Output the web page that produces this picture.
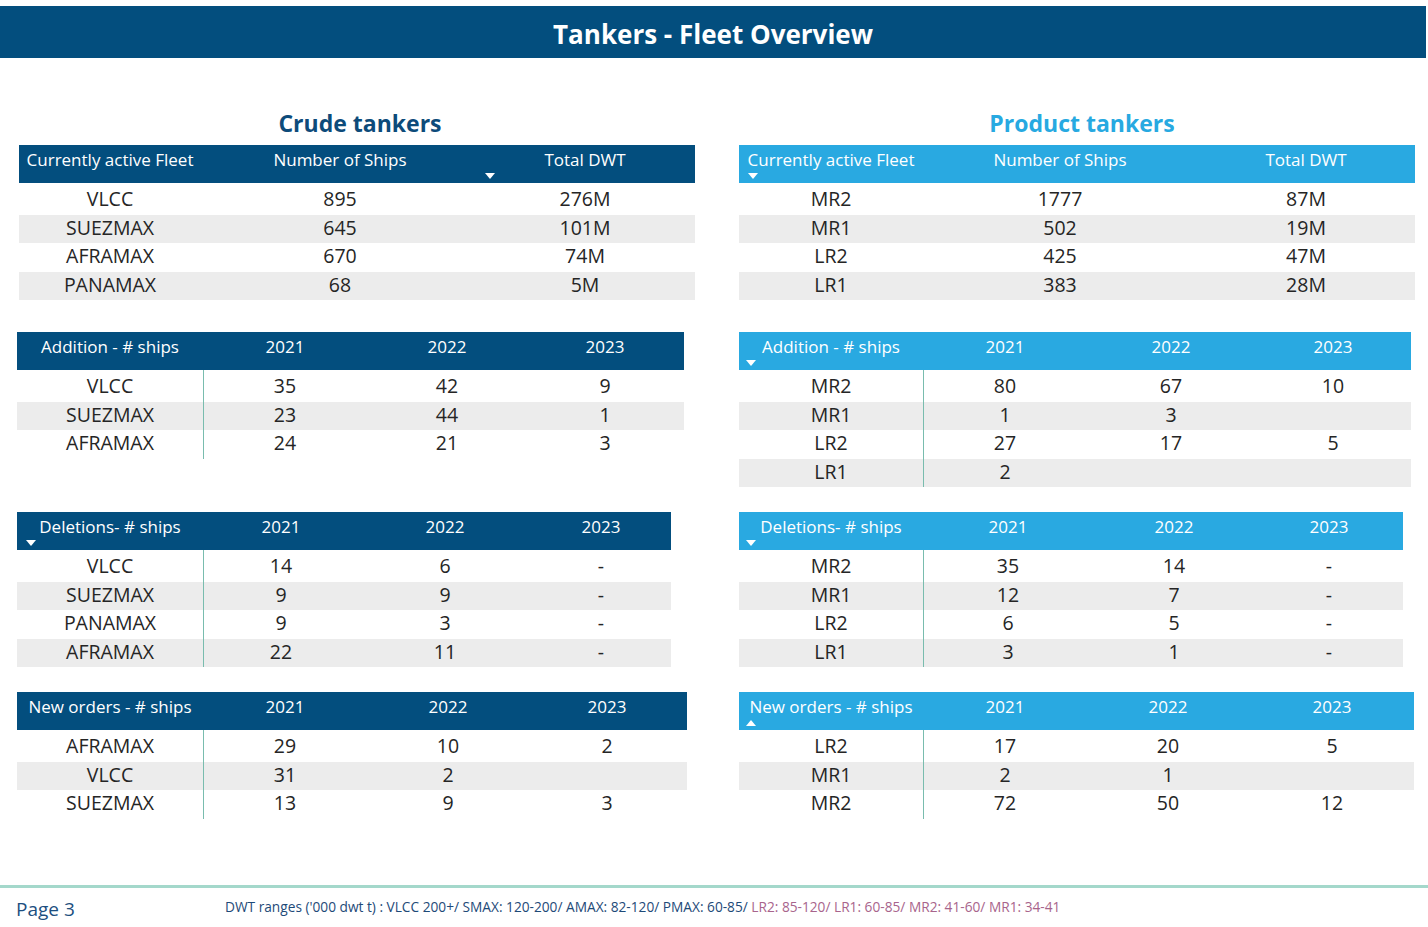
<!DOCTYPE html>
<html>
<head>
<meta charset="utf-8">
<script src="https://cdn.jsdelivr.net/npm/chart.js@4"></script>
<style>
  html, body { margin: 0; padding: 0; background: #fff; }
  body { width: 1428px; height: 927px; position: relative; overflow: hidden;
         font-family: 'Open Sans', 'Noto Sans', sans-serif; }
  .bar { position: absolute; left: 0; top: 6px; width: 1426px; height: 52px; background: #034e7e;
         color: #fff; font-weight: bold; font-size: 26px; text-align: center; line-height: 56px; }
  .sec { position: absolute; font-weight: bold; font-size: 23px; text-align: center; width: 400px; }
  .tbl { position: absolute; }
  .hdr { position: absolute; left: 0; top: 0; height: 38px; width: 100%; }
  .cell { position: absolute; white-space: nowrap; transform: translateX(-50%); }
  .hcell { color: #fff; font-size: 17px; top: 3px; }
  .row { position: absolute; left: 0; width: 100%; }
  .bcell { color: #252525; font-size: 19.5px; }
  .vline { position: absolute; width: 1px; background: #79bcae; }
  .arrow { position: absolute; width: 0; height: 0; border-left: 5px solid transparent; border-right: 5px solid transparent; }
  .foot { position: absolute; left: 0; top: 885px; width: 1428px; height: 3px; background: #a4d8cb; }
</style>
</head>
<body>
<div class="bar">Tankers - Fleet Overview</div>
<div class="sec" style="left:160px;top:107px;color:#0d4b7a;">Crude tankers</div>
<div class="sec" style="left:882px;top:107px;color:#27a9e1;">Product tankers</div>
<div id="page"></div>
<div class="foot"></div>
<div style="position:absolute;left:16px;top:896px;font-size:19px;color:#1d4f80;">Page 3</div>
<div style="position:absolute;left:225px;top:897px;font-size:13.7px;color:#1e4a78;white-space:nowrap;">DWT ranges ('000 dwt t) : VLCC 200+/ SMAX: 120-200/ AMAX: 82-120/ PMAX: 60-85/ <span style="color:#a8648c;">LR2: 85-120/ LR1: 60-85/ MR2: 41-60/ MR1: 34-41</span></div>
<script>
// fleet / ordem de colunas
const years = ['2021', '2022', '2023'];

// crude - frota ativa
const crudeFleetTypes = ['VLCC', 'SUEZMAX', 'AFRAMAX', 'PANAMAX'];
const crudeFleetShips = [895, 645, 670, 68];
const crudeFleetDwt = ['276M', '101M', '74M', '5M'];

// product - frota ativa
const prodFleetTypes = ['MR2', 'MR1', 'LR2', 'LR1'];
const prodFleetShips = [1777, 502, 425, 383];
const prodFleetDwt = ['87M', '19M', '47M', '28M'];

// additions
const crudeAddTypes = ['VLCC', 'SUEZMAX', 'AFRAMAX'];
const crudeAdd2021 = [35, 23, 24];
const crudeAdd2022 = [42, 44, 21];
const crudeAdd2023 = [9, 1, 3];

const prodAddTypes = ['MR2', 'MR1', 'LR2', 'LR1'];
const prodAdd2021 = [80, 1, 27, 2];
const prodAdd2022 = [67, 3, 17, null];
const prodAdd2023 = [10, null, 5, null];

// deletions
const crudeDelTypes = ['VLCC', 'SUEZMAX', 'PANAMAX', 'AFRAMAX'];
const crudeDel2021 = [14, 9, 9, 22];
const crudeDel2022 = [6, 9, 3, 11];
const crudeDel2023 = ['-', '-', '-', '-'];

const prodDelTypes = ['MR2', 'MR1', 'LR2', 'LR1'];
const prodDel2021 = [35, 12, 6, 3];
const prodDel2022 = [14, 7, 5, 1];
const prodDel2023 = ['-', '-', '-', '-'];

// new orders
const crudeOrdTypes = ['AFRAMAX', 'VLCC', 'SUEZMAX'];
const crudeOrd2021 = [29, 31, 13];
const crudeOrd2022 = [10, 2, 9];
const crudeOrd2023 = [2, null, 3];

const prodOrdTypes = ['LR2', 'MR1', 'MR2'];
const prodOrd2021 = [17, 2, 72];
const prodOrd2022 = [20, 1, 50];
const prodOrd2023 = [5, null, 12];

const DARK = '#034e7e';
const LIGHT = '#29a9e1';
const GREY = '#ececec';

function makeTable(opt) {
    const t = document.createElement('div');
    t.className = 'tbl';
    t.style.left = opt.x + 'px';
    t.style.top = opt.y + 'px';
    t.style.width = opt.w + 'px';
    const rowH = 28.6;
    const hdr = document.createElement('div');
    hdr.className = 'hdr';
    hdr.style.background = opt.color;
    t.appendChild(hdr);
    opt.headers.forEach((h, i) => {
        const c = document.createElement('div');
        c.className = 'cell hcell';
        c.style.left = (opt.cols[i] - opt.x) + 'px';
        c.textContent = h;
        hdr.appendChild(c);
    });
    if (opt.arrow) {
        const a = document.createElement('div');
        a.className = 'arrow';
        a.style.left = (opt.arrow[0] - opt.x - 5) + 'px';
        a.style.top = '28px';
        if (opt.arrow[1] === 'up') a.style.borderBottom = '6px solid #fff';
        else a.style.borderTop = '6px solid #fff';
        hdr.appendChild(a);
    }
    const n = opt.columns[0].length;
    for (let r = 0; r < n; r++) {
        const row = document.createElement('div');
        row.className = 'row';
        row.style.top = (41 + r * rowH) + 'px';
        row.style.height = rowH + 'px';
        if (r % 2 === 1) row.style.background = GREY;
        opt.columns.forEach((col, i) => {
            const v = col[r];
            if (v === null || v === undefined) return;
            const c = document.createElement('div');
            c.className = 'cell bcell';
            c.style.left = (opt.cols[i] - opt.x) + 'px';
            c.style.top = '-1px';
            c.style.lineHeight = rowH + 'px';
            c.textContent = v;
            row.appendChild(c);
        });
        t.appendChild(row);
    }
    if (opt.vline) {
        const v = document.createElement('div');
        v.className = 'vline';
        v.style.left = (opt.vline - opt.x) + 'px';
        v.style.top = '38px';
        v.style.height = (3 + n * rowH) + 'px';
        t.appendChild(v);
    }
    document.getElementById('page').appendChild(t);
}

// frota ativa
makeTable({ x: 19, y: 145, w: 676, color: DARK, cols: [110, 340, 585],
    headers: ['Currently active Fleet', 'Number of Ships', 'Total DWT'],
    columns: [crudeFleetTypes, crudeFleetShips, crudeFleetDwt], arrow: [490, 'down'] });
makeTable({ x: 739, y: 145, w: 676, color: LIGHT, cols: [831, 1060, 1306],
    headers: ['Currently active Fleet', 'Number of Ships', 'Total DWT'],
    columns: [prodFleetTypes, prodFleetShips, prodFleetDwt], arrow: [753, 'down'] });

// additions
makeTable({ x: 17, y: 332, w: 667, color: DARK, cols: [110, 285, 447, 605], vline: 203,
    headers: ['Addition - # ships'].concat(years),
    columns: [crudeAddTypes, crudeAdd2021, crudeAdd2022, crudeAdd2023] });
makeTable({ x: 739, y: 332, w: 672, color: LIGHT, cols: [831, 1005, 1171, 1333], vline: 923,
    headers: ['Addition - # ships'].concat(years), arrow: [751, 'down'],
    columns: [prodAddTypes, prodAdd2021, prodAdd2022, prodAdd2023] });

// deletions
makeTable({ x: 17, y: 512, w: 654, color: DARK, cols: [110, 281, 445, 601], vline: 203,
    headers: ['Deletions- # ships'].concat(years), arrow: [31, 'down'],
    columns: [crudeDelTypes, crudeDel2021, crudeDel2022, crudeDel2023] });
makeTable({ x: 739, y: 512, w: 664, color: LIGHT, cols: [831, 1008, 1174, 1329], vline: 923,
    headers: ['Deletions- # ships'].concat(years), arrow: [751, 'down'],
    columns: [prodDelTypes, prodDel2021, prodDel2022, prodDel2023] });

// new orders
makeTable({ x: 17, y: 692, w: 670, color: DARK, cols: [110, 285, 448, 607], vline: 203,
    headers: ['New orders - # ships'].concat(years),
    columns: [crudeOrdTypes, crudeOrd2021, crudeOrd2022, crudeOrd2023] });
makeTable({ x: 739, y: 692, w: 675, color: LIGHT, cols: [831, 1005, 1168, 1332], vline: 923,
    headers: ['New orders - # ships'].concat(years), arrow: [751, 'up'],
    columns: [prodOrdTypes, prodOrd2021, prodOrd2022, prodOrd2023] });
</script>
</body>
</html>
